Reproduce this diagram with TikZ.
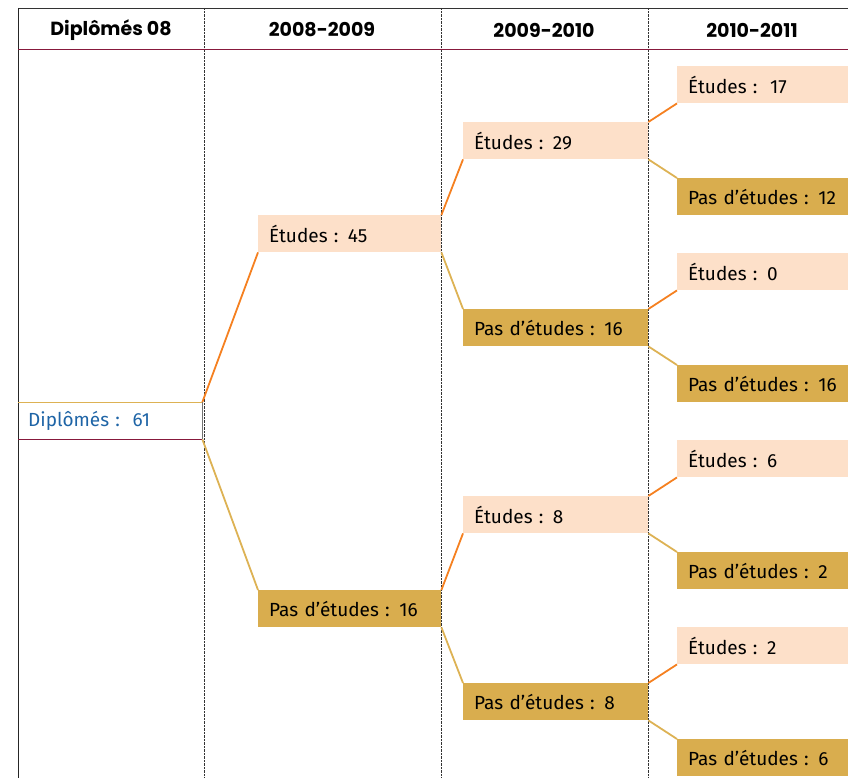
\documentclass[tikz,border=0pt]{standalone}
\usepackage{fontspec}
\setmainfont{Fira Sans}
\newfontfamily\headfont{Poppins}
\usetikzlibrary{positioning}
\definecolor{peach}{RGB}{253,224,201}
\definecolor{gold}{RGB}{217,173,78}
\definecolor{orangeline}{RGB}{245,128,32}
\definecolor{goldline}{RGB}{221,178,84}
\definecolor{maroon}{RGB}{135,25,60}
\definecolor{dipblue}{RGB}{30,100,166}

\begin{document}
\begin{tikzpicture}[x=1pt, y=-1pt,
		box/.style={rectangle, anchor=north west, inner xsep=11pt, inner ysep=0pt,
			minimum height=37pt, text width=#1, align=left, font=\fontsize{19}{22}\selectfont},
		box/.default=161pt,
		etu/.style={box=#1, fill=peach},
		etu/.default=161pt,
		pas/.style={box=#1, fill=gold},
		pas/.default=161pt,
		toetu/.style={orangeline, line width=1.8pt},
		topas/.style={goldline, line width=1.8pt},
		head/.style={font=\headfont\bfseries\fontsize{19}{22}\selectfont}]
	\useasboundingbox (0,0) rectangle (848,778);

	% frame and header
	\draw[thin, black!80] (18,8) -- (848,8);
	\draw[thick, black!85] (18,8) -- (18,778);
	\foreach \x in {204,441,648}
		\draw[densely dotted, black!80] (\x,8) -- (\x,778);
	\draw[maroon, semithick] (18,49) -- (848,49);
	\node[head] (h0) at (111,30) {Diplômés 08};
	\node[head] (h1) at (322,30) {2008-2009};
	\node[head] (h2) at (544,30) {2009-2010};
	\node[head] (h3) at (752,30) {2010-2011};

	% root
	\node[box=164pt, text=dipblue, inner xsep=10pt] (dip) at (18,402) {Diplômés :\ \ 61};
	\draw[goldline, semithick] (dip.north west) -- (dip.north east);
	\draw[maroon, semithick] (dip.south west) -- (dip.south east);
	\draw[black!55, semithick] (dip.north east) -- (dip.south east);

	% 2008-2009
	\node[etu] (e) at (258,215) {Études : 45};
	\node[pas] (p) at (258,590) {Pas d’études : 16};

	% 2009-2010
	\node[etu=163pt] (ee) at (463,122) {Études : 29};
	\node[pas=163pt] (ep) at (463,309) {Pas d’études : 16};
	\node[etu=163pt] (pe) at (463,496) {Études : 8};
	\node[pas=163pt] (pp) at (463,683) {Pas d’études : 8};

	% 2010-2011
	\node[etu=149pt] (eee) at (677,66) {Études :\ \ 17};
	\node[pas=149pt] (eep) at (677,178) {Pas d’études : 12};
	\node[etu=149pt] (epe) at (677,253) {Études : 0};
	\node[pas=149pt] (epp) at (677,365) {Pas d’études : 16};
	\node[etu=149pt] (pee) at (677,440) {Études : 6};
	\node[pas=149pt] (pep) at (677,552) {Pas d’études : 2};
	\node[etu=149pt] (ppe) at (677,627) {Études : 2};
	\node[pas=149pt] (ppp) at (677,739) {Pas d’études : 6};

	% branches
	\draw[toetu] (dip.north east) -- (e.south west);
	\draw[topas] (dip.south east) -- (p.north west);
	\foreach \a/\b/\c in {e/ee/ep, p/pe/pp, ee/eee/eep, ep/epe/epp, pe/pee/pep, pp/ppe/ppp} {
		\draw[toetu] (\a.north east) -- (\b.south west);
		\draw[topas] (\a.south east) -- (\c.north west);
	}
\end{tikzpicture}
\end{document}
